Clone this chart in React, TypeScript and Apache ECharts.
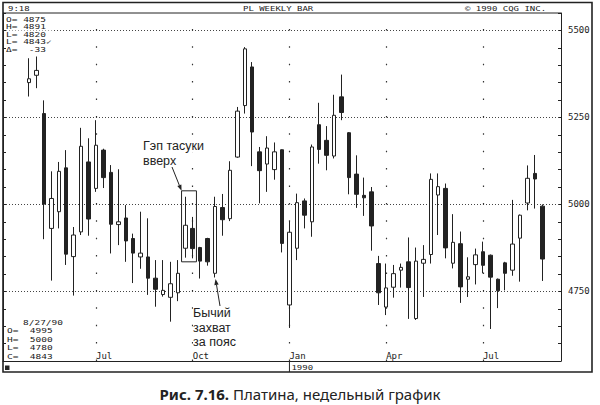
import React, { useEffect, useRef } from "react";
import * as echarts from "echarts";

// Weekly bars (Monday of each week), platinum, May 1989 – Aug 1990
const weeks = [
  "1989-05-01", "1989-05-08", "1989-05-15", "1989-05-22", "1989-05-29",
  "1989-06-05", "1989-06-12", "1989-06-19", "1989-06-26",
  "1989-07-03", "1989-07-10", "1989-07-17", "1989-07-24", "1989-07-31",
  "1989-08-07", "1989-08-14", "1989-08-21", "1989-08-28",
  "1989-09-04", "1989-09-11", "1989-09-18", "1989-09-25",
  "1989-10-02", "1989-10-09", "1989-10-16", "1989-10-23", "1989-10-30",
  "1989-11-06", "1989-11-13", "1989-11-20", "1989-11-27",
  "1989-12-04", "1989-12-11", "1989-12-18", "1989-12-25",
  "1990-01-01", "1990-01-08", "1990-01-15", "1990-01-22", "1990-01-29",
  "1990-02-05", "1990-02-12", "1990-02-19", "1990-02-26",
  "1990-03-05", "1990-03-12", "1990-03-19", "1990-03-26",
  "1990-04-02", "1990-04-09", "1990-04-16", "1990-04-23", "1990-04-30",
  "1990-05-07", "1990-05-14", "1990-05-21", "1990-05-28",
  "1990-06-04", "1990-06-11", "1990-06-18", "1990-06-25",
  "1990-07-02", "1990-07-09", "1990-07-16", "1990-07-23", "1990-07-30",
  "1990-08-06", "1990-08-13", "1990-08-20", "1990-08-27",
];
// empty weeks shown before / after the bars
const padBefore = ["1989-04-10", "1989-04-17", "1989-04-24"];
const padAfter = ["1990-09-03", "1990-09-10"];

const openP = [
  5350, 5371, 5261, 4931, 4979, 5105, 4850, 4921, 5122, 5046,
  5156, 5092, 4942, 4961, 4902, 4849, 4849, 4788, 4741, 4733,
  4746, 4874, 4931, 4876, 4902, 4802, 4991, 4959, 5136, 5284,
  5395, 5151, 5116, 5100, 5157, 4711, 4874, 5010, 4950, 5229,
  5184, 5139, 5309, 5206, 5087, 5026, 5036, 4830, 4705, 4762,
  4811, 4835, 4672, 4831, 4856, 5027, 5046, 4831, 4887, 4785,
  4827, 4864, 4854, 4785, 4832, 4811, 4903, 5004, 5089, 4995,
];
const closeP = [
  5361, 5385, 5001, 5017, 5095, 4857, 4912, 5167, 4958, 5170,
  5077, 4943, 4950, 4895, 4860, 4860, 4788, 4756, 4753, 4772,
  4802, 4940, 4873, 4837, 4835, 4994, 4956, 5098, 5268, 5447,
  5208, 5097, 5162, 5151, 4888, 4920, 5005, 4969, 5165, 5158,
  5141, 5256, 5264, 5077, 5029, 5019, 4938, 4746, 4760, 4801,
  4819, 4761, 4837, 4842, 5072, 5051, 4875, 4891, 4763, 4792,
  4855, 4825, 4791, 4752, 4802, 4886, 4969, 5075, 5073, 4843,
];
const lowP = [
  5310, 5334, 4900, 4781, 4931, 4826, 4738, 4912, 4910, 5036,
  5047, 4859, 4883, 4835, 4774, 4815, 4740, 4706, 4735, 4663,
  4722, 4847, 4845, 4787, 4824, 4790, 4910, 4952, 5134, 5261,
  5110, 5003, 5036, 5071, 4862, 4645, 4840, 4931, 4907, 5117,
  5098, 5132, 5242, 5029, 4990, 4967, 4867, 4711, 4682, 4732,
  4761, 4671, 4668, 4734, 4830, 4912, 4845, 4816, 4717, 4734,
  4770, 4802, 4642, 4702, 4753, 4795, 4778, 4983, 4988, 4780,
];
const highP = [
  5420, 5425, 5299, 5095, 5122, 5156, 4935, 5220, 5190, 5242,
  5160, 5113, 5101, 4998, 4916, 4979, 4960, 4840, 4840, 4835,
  4840, 5022, 4964, 4878, 4904, 5022, 5030, 5124, 5280, 5452,
  5409, 5165, 5196, 5178, 5158, 4952, 5031, 5017, 5172, 5292,
  5225, 5315, 5373, 5208, 5141, 5077, 5050, 4852, 4830, 4826,
  4830, 4905, 4876, 4883, 5089, 5089, 5060, 4972, 4922, 4848,
  4873, 4893, 4856, 4787, 4835, 5013, 4971, 5112, 5142, 5000,
];

const priceLabels = [4750, 5000, 5250, 5500];
const monthNames = ["Jan", "Feb", "Mar", "Apr", "May", "Jun", "Jul", "Aug", "Sep", "Oct", "Nov", "Dec"];
const topInfo = ["O= 4875", "H= 4891", "L= 4820", "L= 4843\u2713", "\u0394=  -33"];
const lastBarDate = "8/27/90";
const titleLeft = "9:18";
const titleMid = "PL WEEKLY BAR";
const titleRight = "\u00a9 1990 CQG INC.";
const yearLabel = "1990";
const note1 = ["Гэп тасуки", "вверх"];
const note2 = ["Бычий", "захват", "за пояс"];
const caption = "{b|Рис. 7.16.} Платина, недельный график";
// annotation anchors (bar indexes and prices)
const gapBox = { first: 21, last: 22, top: 5039, bottom: 4835 };
const beltHoldBar = 25;

const MONO = "'DejaVu Sans Mono', monospace";
const SANS = "'Noto Sans', sans-serif";
const NOTE = "'Liberation Sans', Arial, sans-serif";
const INK = "#222";

const categories = [...padBefore, ...weeks, ...padAfter];
const pad = padBefore.length;
const candleData = categories.map((_, k) => {
  const i = k - pad;
  if (i < 0 || i >= weeks.length) return ["-", "-", "-", "-"];
  return [openP[i], closeP[i], lowP[i], highP[i]];
});
const isQuarterStart = (v: string) => {
  const m = Number(v.slice(5, 7));
  const d = Number(v.slice(8, 10));
  return d <= 7 && (m === 1 || m === 4 || m === 7 || m === 10);
};
const quarterCats = categories.filter(isQuarterStart);

function monoText(text: string, x: number, y: number, extra: any = {}, scaleY = 1) {
  return {
    type: "text",
    x,
    y,
    scaleY,
    z: 60,
    style: {
      text,
      fill: INK,
      fontFamily: MONO,
      fontSize: 9,
      align: "left",
      verticalAlign: "middle",
      ...extra,
    },
  };
}
function noteText(text: string, x: number, y: number) {
  return {
    type: "text",
    x,
    y,
    z: 60,
    style: {
      text,
      fill: INK,
      fontFamily: NOTE,
      fontSize: 12.5,
      lineHeight: 13,
      align: "left",
      verticalAlign: "middle",
      backgroundColor: "#fff",
    },
  };
}
function arrow(x1: number, y1: number, x2: number, y2: number) {
  const dx = x2 - x1;
  const dy = y2 - y1;
  const L = Math.hypot(dx, dy);
  const ux = dx / L;
  const uy = dy / L;
  const hl = 6;
  const hw = 2.2;
  const bx = x2 - ux * hl;
  const by = y2 - uy * hl;
  return [
    { type: "line", z: 65, shape: { x1, y1, x2: bx, y2: by }, style: { stroke: INK, lineWidth: 1 } },
    {
      type: "polygon",
      z: 65,
      shape: { points: [[x2, y2], [bx - uy * hw, by + ux * hw], [bx + uy * hw, by - ux * hw]] },
      style: { fill: INK },
    },
  ];
}

export default function App() {
  const ref = useRef<HTMLDivElement>(null);
  useEffect(() => {
    const chart = echarts.init(ref.current!, null, { renderer: "svg" });
    const yAxisBase = {
      type: "value",
      min: 4550,
      max: 5550,
      interval: 50,
      axisLine: { show: true, onZero: false, lineStyle: { color: INK, width: 1 } },
      axisTick: { show: true, inside: true, length: 3, lineStyle: { color: INK } },
      splitLine: { show: false },
    };
    chart.setOption({
      animation: false,
      backgroundColor: "#fff",
      grid: { left: 3, top: 13, width: 558, height: 348 },
      xAxis: {
        type: "category",
        data: categories,
        boundaryGap: true,
        axisLine: { show: true, lineStyle: { color: INK, width: 1 } },
        axisTick: { show: false },
        splitLine: { show: false },
        axisLabel: {
          inside: true,
          margin: 1,
          align: "left",
          interval: (_i: number, v: string) => isQuarterStart(v),
          formatter: (v: string) => monthNames[Number(v.slice(5, 7)) - 1],
          color: INK,
          fontFamily: MONO,
          fontSize: 9,
        },
      },
      yAxis: [
        {
          ...yAxisBase,
          position: "right",
          axisLabel: {
            margin: 7,
            formatter: (v: number) => (priceLabels.includes(v) ? String(v) : ""),
            color: INK,
            fontFamily: MONO,
            fontSize: 9,
          },
        },
        { ...yAxisBase, position: "left", axisLabel: { show: false } },
      ],
      series: [
        {
          type: "candlestick",
          yAxisIndex: 0,
          data: candleData,
          barWidth: 4,
          itemStyle: { color: "#fff", color0: INK, borderColor: INK, borderColor0: INK, borderWidth: 1 },
          emphasis: { disabled: true },
          markLine: {
            silent: true,
            z: 1,
            symbol: ["none", "none"],
            label: { show: false },
            emphasis: { disabled: true },
            data: [
              ...priceLabels.map((v) => ({ yAxis: v, lineStyle: { type: [1, 2], color: "#444", width: 1 } })),
              ...quarterCats.map((c) => ({ xAxis: c, lineStyle: { type: [1.5, 15.9], color: "#333", width: 1.2 } })),
            ],
          },
        },
      ],
    });

    const P = (i: number, v: number) =>
      chart.convertToPixel({ seriesIndex: 0 }, [categories[i + pad], v]) as number[];
    const step = P(1, 5000)[0] - P(0, 5000)[0];
    const bx0 = P(gapBox.first, 5000)[0] - step / 2;
    const bx1 = P(gapBox.last, 5000)[0] + step / 2;
    const by0 = P(gapBox.first, gapBox.top)[1];
    const by1 = P(gapBox.first, gapBox.bottom)[1];
    const beltTip = P(beltHoldBar, lowP[beltHoldBar]);
    const yearX = P(weeks.indexOf("1990-01-01"), 5000)[0];
    const last = weeks.length - 1;
    const lastInfo = [
      `O=  ${openP[last]}`,
      `H=  ${highP[last]}`,
      `L=  ${lowP[last]}`,
      `C=  ${closeP[last]}`,
    ];

    const graphic: any[] = [
      { type: "rect", z: 40, shape: { x: 3, y: 2.5, width: 589, height: 369.5 }, style: { fill: "none", stroke: INK, lineWidth: 1.6 } },
      { type: "line", z: 40, shape: { x1: 3, y1: 13, x2: 561, y2: 13 }, style: { stroke: INK, lineWidth: 1 } },
      { type: "line", z: 40, shape: { x1: yearX, y1: 361, x2: yearX, y2: 372 }, style: { stroke: INK, lineWidth: 1 } },
      { type: "rect", z: 40, shape: { x: 5, y: 365.5, width: 4.5, height: 4.5 }, style: { fill: INK } },
      monoText(yearLabel, yearX + 2, 367, {}, 0.8),
      monoText(titleLeft, 8, 8.5, {}, 0.8),
      monoText(titleMid, 243, 8.5, {}, 0.8),
      monoText(titleRight, 465, 8.5, {}, 0.8),
      ...topInfo.map((t, k) =>
        monoText(t, 6, 19.5 + k * 7.5, { fontSize: 9.5, backgroundColor: "#fff", padding: [0, 8, 0, 0] }, 0.68)
      ),
      monoText(lastBarDate, 23, 322.5, { fontSize: 9.5 }, 0.72),
      ...lastInfo.map((t, k) => monoText(t, 7, 331 + k * 8.5, { fontSize: 9.5 }, 0.72)),
      {
        type: "rect",
        z: 50,
        shape: { x: bx0, y: by0, width: bx1 - bx0, height: by1 - by0 },
        style: { fill: "none", stroke: INK, lineWidth: 1 },
      },
      ...note1.map((t, k) => noteText(t, 143, 146 + k * 15)),
      ...arrow(172, 167, bx0, by0),
      ...note2.map((t, k) => noteText(t, 193, 313 + k * 14.5)),
      ...arrow(220, 306, beltTip[0] + 0.5, beltTip[1] + 1.5),
      {
        type: "text",
        x: 300,
        y: 394,
        z: 60,
        style: {
          text: caption,
          fill: INK,
          fontFamily: SANS,
          fontSize: 15,
          lineHeight: 17,
          align: "center",
          verticalAlign: "middle",
          rich: { b: { fontFamily: SANS, fontSize: 15, lineHeight: 17, fontWeight: "bold", fill: INK } },
        },
      },
    ];
    chart.setOption({ graphic });
    return () => chart.dispose();
  }, []);
  return (
    <div
      ref={ref}
      style={{ position: "absolute", left: 0, top: 0, width: 600, height: 405, background: "#fff" }}
    />
  );
}
